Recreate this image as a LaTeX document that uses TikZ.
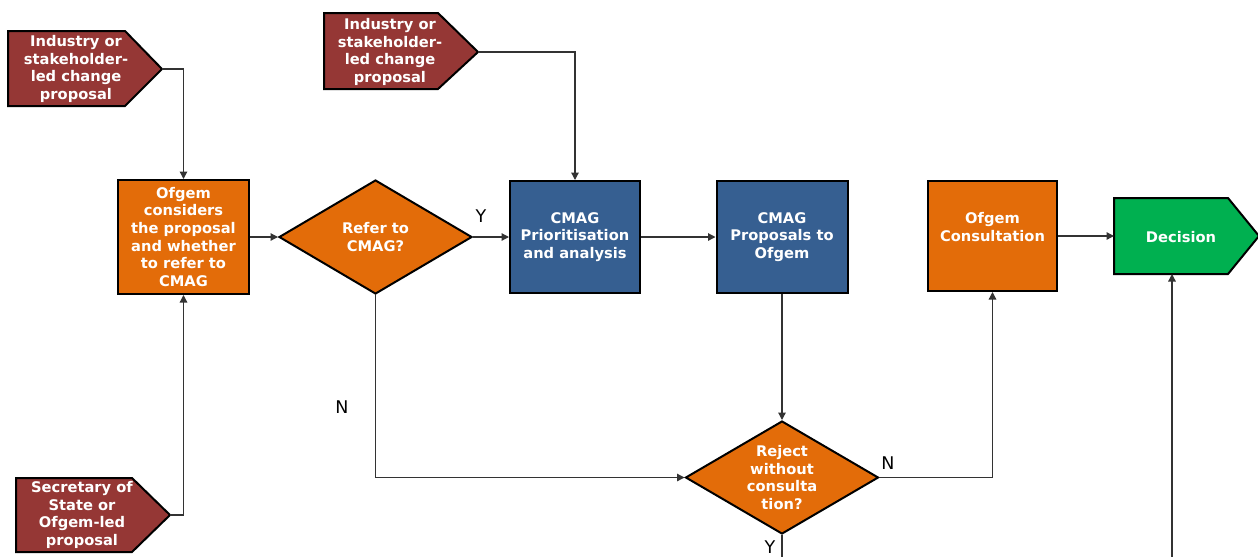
\documentclass[tikz,border=0pt]{standalone}
\usepackage{fontspec}
\setmainfont{DejaVu Sans}
\usetikzlibrary{shapes.geometric,arrows.meta}
\newlength\pxu
\setlength\pxu{0.6pt}
\definecolor{maroon}{HTML}{953735}
\definecolor{orng}{HTML}{E36C09}
\definecolor{navy}{HTML}{365F91}
\definecolor{grn}{HTML}{00B050}
\definecolor{linegray}{HTML}{333333}
\tikzset{
  shapeline/.style={draw=black,line width=1.2pt,line join=miter},
  boxstyle/.style={shapeline,rectangle,inner sep=0pt},
  diastyle/.style={shapeline,diamond,inner sep=0pt,fill=orng},
  txt/.style={text=white,align=center,font=\fontsize{8.8}{10.6}\selectfont\bfseries,inner sep=0pt},
  lbl/.style={font=\fontsize{10.5}{12}\selectfont,text=black,inner sep=0pt},
  conn/.style={draw=linegray,line width=0.75pt},
  arr/.style={conn,-{Triangle[length=4.5pt,width=4.5pt]}},
}
\begin{document}
\begin{tikzpicture}[x=\pxu,y=-\pxu]
\useasboundingbox (0,0) rectangle (1258,556);
% pentagons
\draw[shapeline,fill=maroon] (8,31) -- (125,31) -- (162,69) -- (125,106) -- (8,106) -- cycle;
\node[txt] (p1) at (76,69) {Industry or\\stakeholder-\\led change\\proposal};
\coordinate (p1tip) at (162,69);
\draw[shapeline,fill=maroon] (324,13) -- (438,13) -- (478,52) -- (438,89) -- (324,89) -- cycle;
\node[txt] (p2) at (390,52) {Industry or\\stakeholder-\\led change\\proposal};
\coordinate (p2tip) at (478,52);
\draw[shapeline,fill=maroon] (16,478) -- (132,478) -- (170,515) -- (132,552) -- (16,552) -- cycle;
\node[txt] (p3) at (82,515) {Secretary of\\State or\\Ofgem-led\\proposal};
\coordinate (p3tip) at (170,515);
\draw[shapeline,fill=grn] (1114,198) -- (1228,198) -- (1259,236) -- (1228,274) -- (1114,274) -- cycle;
\node[txt] (dec) at (1181,237) {Decision};
\coordinate (decwest) at (1114,236);
\coordinate (decbot) at (1172,274);
\coordinate (decfeed) at (1172,560);
% boxes
\node[boxstyle,fill=orng,minimum width=131\pxu,minimum height=114\pxu] (ofg) at (183.5,237) {};
\node[txt] at (183.5,237) {Ofgem\\considers\\the proposal\\and whether\\to refer to\\CMAG};
\node[diastyle,minimum width=193\pxu,minimum height=114\pxu] (d1) at (375.5,237) {};
\node[txt] at (375.5,237) {Refer to\\CMAG?};
\node[boxstyle,fill=navy,minimum width=130\pxu,minimum height=112\pxu] (c1) at (575,237) {};
\node[txt] at (575,237) {CMAG\\Prioritisation\\and analysis};
\node[boxstyle,fill=navy,minimum width=131\pxu,minimum height=112\pxu] (c2) at (782,237) {};
\node[txt] at (782,237) {CMAG\\Proposals to\\Ofgem};
\node[boxstyle,fill=orng,minimum width=129\pxu,minimum height=110\pxu] (cons) at (992.5,236) {};
\node[txt] at (992.5,227) {Ofgem\\Consultation};
\node[diastyle,minimum width=193\pxu,minimum height=113\pxu] (rej) at (782,477.5) {};
\node[txt] at (782,477.5) {Reject\\without\\consulta\\tion?};
\coordinate (rejout) at (782,560);
% connectors
\draw[arr] (p1tip) -| (ofg.north);
\draw[arr] (p3tip) -| (ofg.south);
\draw[arr] (ofg.east) -- (d1.west);
\draw[arr] (d1.east) -- (c1.west);
\draw[arr] (p2tip) -| (c1.north);
\draw[arr] (c1.east) -- (c2.west);
\draw[arr] (c2.south) -- (rej.north);
\draw[arr] (d1.south) |- (rej.west);
\draw[arr] (rej.east) -| (cons.south);
\draw[arr] (cons.east) -- (decwest);
\draw[conn] (rej.south) -- (rejout);
\draw[arr] (decfeed) -- (decbot);
% labels
\node[lbl] (ly1) at (481,216) {Y};
\node[lbl] (ln1) at (342,407) {N};
\node[lbl] (ln2) at (888,463) {N};
\node[lbl] (ly2) at (770,547) {Y};
\end{tikzpicture}
\end{document}
